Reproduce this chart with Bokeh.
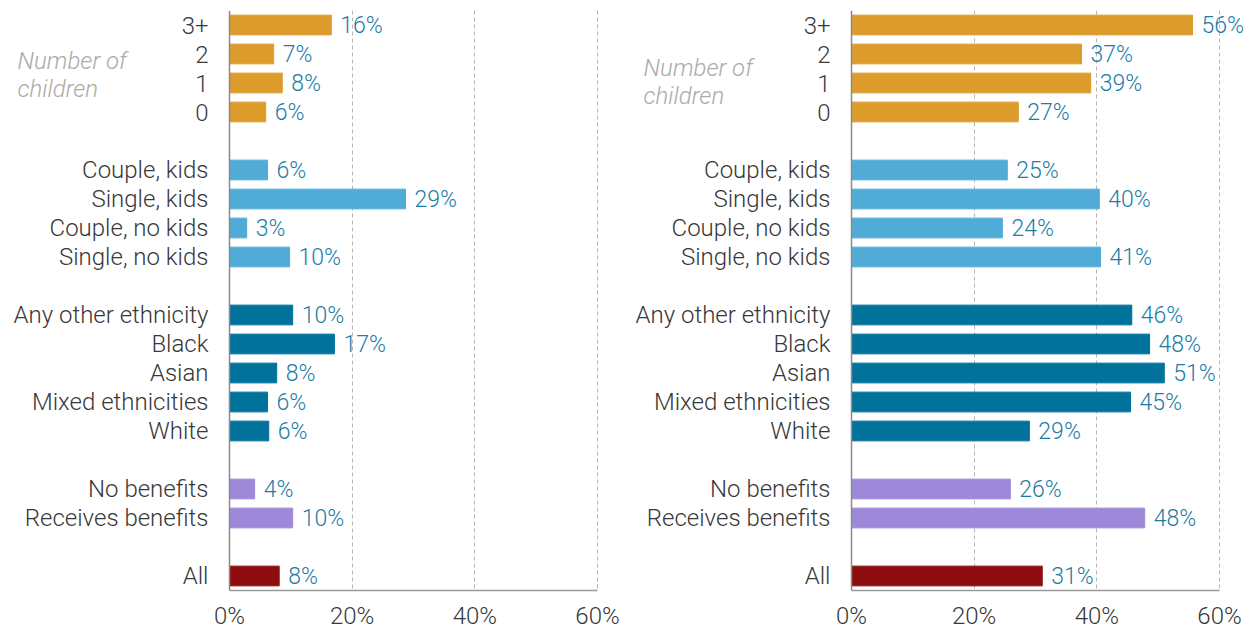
from bokeh.plotting import figure
from bokeh.models import Range1d, FixedTicker, NumeralTickFormatter, ColumnDataSource, Span
from bokeh.layouts import row
from bokeh.embed import file_html
from bokeh.resources import INLINE
from bokeh.core.properties import value

categories = ["3+", "2", "1", "0",
              "Couple, kids", "Single, kids", "Couple, no kids", "Single, no kids",
              "Any other ethnicity", "Black", "Asian", "Mixed ethnicities", "White",
              "No benefits", "Receives benefits",
              "All"]
groups = ["children"] * 4 + ["household"] * 4 + ["ethnicity"] * 5 + ["benefits"] * 2 + ["all"]

left_values = [0.166, 0.072, 0.086, 0.059,
               0.062, 0.287, 0.028, 0.098,
               0.103, 0.171, 0.077, 0.062, 0.064,
               0.041, 0.103,
               0.081]
left_labels = ["16%", "7%", "8%", "6%",
               "6%", "29%", "3%", "10%",
               "10%", "17%", "8%", "6%", "6%",
               "4%", "10%",
               "8%"]

right_values = [0.556, 0.375, 0.390, 0.272,
                0.254, 0.404, 0.246, 0.406,
                0.457, 0.486, 0.510, 0.455, 0.290,
                0.259, 0.478,
                0.311]
right_labels = ["56%", "37%", "39%", "27%",
                "25%", "40%", "24%", "41%",
                "46%", "48%", "51%", "45%", "29%",
                "26%", "48%",
                "31%"]

x_ticks = [0, 0.2, 0.4, 0.6]
note_text = "Number of\nchildren"

group_colors = {"children": "#DD9B2C", "household": "#50ABD6", "ethnicity": "#00729B",
                "benefits": "#9D88D9", "all": "#8E0E10"}

# row positions with a blank row between groups
positions = []
cur = 0
prev = None
for g in groups:
    if prev is not None and g != prev:
        cur += 1
    positions.append(cur)
    cur += 1
    prev = g
n_rows = cur

FONT = "'Roboto Light', Roboto"
TXT = "#383838"
VAL = "#1b7ca6"
PX_PER_UNIT = 368 / 0.6   # 0..60% spans 368 px


def make_panel(values, labels, width, zero_px, note_x, note_y):
    x_start = -zero_px / PX_PER_UNIT
    x_end = (width - zero_px) / PX_PER_UNIT
    src = ColumnDataSource(dict(y=positions, v=values, lab=labels, cat=categories,
                                color=[group_colors[g] for g in groups]))
    p = figure(width=width, height=632, output_backend="svg", toolbar_location=None,
               x_range=Range1d(x_start, x_end), y_range=Range1d(n_rows - 0.5, -0.5),
               y_axis_location=None,
               min_border_left=0, min_border_right=0,
               min_border_top=10, min_border_bottom=40)
    p.outline_line_color = None

    p.ygrid.grid_line_color = None
    p.xgrid.ticker = FixedTicker(ticks=x_ticks[1:])
    p.xgrid.grid_line_color = "#b5b5b5"
    p.xgrid.grid_line_dash = "4 3"
    p.xgrid.grid_line_width = 1

    p.hbar(y="y", left=0, right="v", height=0.68, color="color", source=src)
    p.text(x="v", y="y", text="lab", source=src, x_offset=9,
           text_font=value(FONT), text_font_size="23px", text_color=VAL,
           text_baseline="middle", text_align="left")
    # category labels (the vertical axis)
    p.text(x=0, y="y", text="cat", source=src, x_offset=-21,
           text_font=value(FONT), text_font_size="24px", text_color=TXT,
           text_baseline="middle", text_align="right")
    p.add_layout(Span(location=0, dimension="height", line_color="#8a8a8a", line_width=1.5))
    p.text(x=[note_x], y=[note_y], text=[note_text],
           text_font=value(FONT), text_font_size="24px", text_font_style="italic",
           text_color="#ababab", text_baseline="middle", text_align="left",
           text_line_height=1.0)

    # x axis
    xa = p.xaxis[0]
    xa.ticker = FixedTicker(ticks=x_ticks)
    xa.formatter = NumeralTickFormatter(format="0%")
    xa.bounds = (0, 0.6)
    xa.major_tick_line_color = None
    xa.minor_tick_line_color = None
    xa.major_tick_out = 0
    xa.major_tick_in = 0
    xa.major_label_standoff = 11
    xa.major_label_text_font = FONT
    xa.major_label_text_font_size = "24px"
    xa.major_label_text_color = TXT
    xa.axis_line_color = "#9a9a9a"
    xa.axis_line_width = 1.5
    return p


left = make_panel(left_values, left_labels, 630, 229, -0.3457, 1.72)
right = make_panel(right_values, right_labels, 623, 221, -0.339, 1.95)

layout = row(left, right)
open("out.html", "w").write(file_html(layout, INLINE))
